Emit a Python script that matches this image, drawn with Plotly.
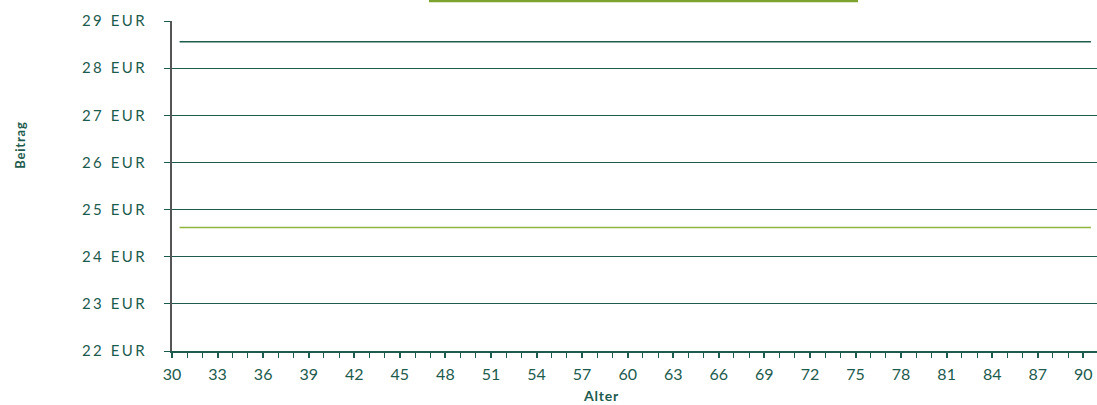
import plotly.graph_objects as go

# Data
ages = list(range(30, 91))
premium_dark = [28.56] * len(ages)
premium_green = [24.62] * len(ages)
y_tickvals = [22, 23, 24, 25, 26, 27, 28, 29]
y_ticktext = ["22 EUR", "23 EUR", "24 EUR", "25 EUR", "26 EUR", "27 EUR", "28 EUR", "29 EUR"]
x_tickvals = list(range(30, 91, 3))
x_ticktext = [str(v) for v in x_tickvals]

TEAL = "#1d5b4e"
FONT = "Lato"

fig = go.Figure()
xs = [a + 0.5 for a in ages]
fig.add_trace(go.Scatter(x=xs, y=premium_dark, mode="lines",
                         line=dict(color="#1d5b4e", width=1.5), showlegend=False,
                         hoverinfo="skip"))
fig.add_trace(go.Scatter(x=xs, y=premium_green, mode="lines",
                         line=dict(color="#8fb53a", width=1.5), showlegend=False,
                         hoverinfo="skip"))

pw, ph = 925, 330
fig.update_layout(
    width=1097, height=405,
    margin=dict(l=172, r=0, t=21, b=54),
    plot_bgcolor="white", paper_bgcolor="white",
    font=dict(family=FONT, color=TEAL, size=14),
    xaxis=dict(range=[30, 90.9], tickvals=x_tickvals, ticktext=x_ticktext,
               ticks="outside", ticklen=5, tickcolor=TEAL, tickwidth=1.5,
               minor=dict(dtick=1, tick0=30, ticks="outside", ticklen=5, tickcolor=TEAL, tickwidth=1.2, showgrid=False),
               showgrid=False, zeroline=False, showline=True, linecolor=TEAL, linewidth=2,
               tickfont=dict(size=16, color=TEAL), ticklabelstandoff=3, fixedrange=True),
    yaxis=dict(range=[22, 29], tickvals=y_tickvals, ticktext=y_ticktext,
               ticks="outside", ticklen=6, tickcolor=TEAL, tickwidth=1,
               showgrid=True, gridcolor=TEAL, gridwidth=1.2, zeroline=False,
               showline=True, linecolor="#555555", linewidth=1.5,
               tickfont=dict(size=15, color=TEAL), ticklabelstandoff=14, fixedrange=True),
    annotations=[
        dict(text="<b>Beitrag</b>", x=(20 - 172) / pw, y=(351 - 145) / ph, xref="paper", yref="paper",
             showarrow=False, xanchor="center", yanchor="middle",
             textangle=-90, font=dict(size=13, color=TEAL, family=FONT)),
        dict(text="<b>Alter</b>", x=(601 - 172) / pw, y=(351 - 395) / ph, xref="paper", yref="paper",
             showarrow=False, xanchor="center", yanchor="middle",
             font=dict(size=14, color=TEAL, family=FONT)),
    ],
    shapes=[dict(type="line", xref="paper", yref="paper", x0=(429 - 172) / pw, x1=(858 - 172) / pw,
                 y0=1 + 20 / ph, y1=1 + 20 / ph, line=dict(color="#7ba32d", width=2.5))],
)

post = """
document.querySelectorAll('.ytick text').forEach(function(t){t.style.letterSpacing='2.5px';});
document.querySelectorAll('.annotation-text').forEach(function(t){t.style.letterSpacing='0.8px';});
"""
fig.write_html("out.html", post_script=post, config={"displayModeBar": False})
